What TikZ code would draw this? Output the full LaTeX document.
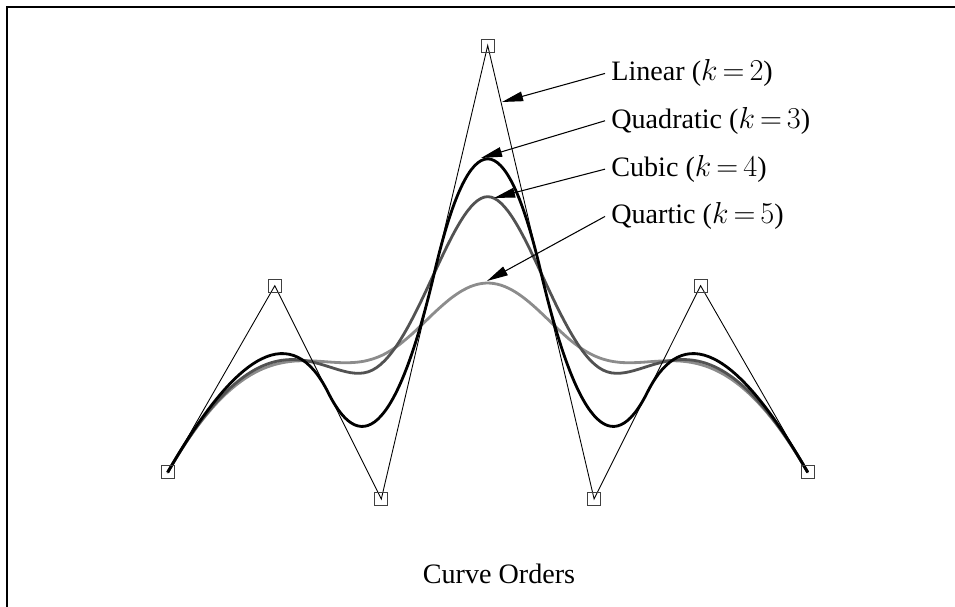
\documentclass[tikz,border=0pt]{standalone}
\usepackage{fontspec}
\setmainfont{Liberation Serif}
\usetikzlibrary{arrows.meta,calc}
\newcommand\lblfont{\fontsize{16}{19}\selectfont\thickmuskip=3mu\relax}
\tikzset{
  frame/.style={line width=0.9pt},
  ctrl/.style={draw=black!75, line width=0.45pt, rectangle, minimum size=0.26cm, inner sep=0pt},
  hull/.style={line width=0.5pt},
  quad/.style={line width=1.6pt, black},
  cub/.style={line width=1.6pt, black!68},
  quart/.style={line width=1.6pt, black!45, line cap=round},
  pointer/.style={-{Triangle[length=12pt,width=5.5pt]}, line width=0.6pt},
  lbl/.style={anchor=base west, inner xsep=0.12cm, font=\lblfont},
  capn/.style={anchor=base, font=\fontsize{16}{19}\selectfont},
}
% quartic Bezier piece through five points
\newcommand\quartseg[5]{%
  let \p1=(#1), \p2=(#2), \p3=(#3), \p4=(#4), \p5=(#5) in
  plot[variable=\t, domain=0:1, samples=40, smooth]
  ({(1-\t)^4*\x1 + 4*(1-\t)^3*\t*\x2 + 6*(1-\t)^2*\t^2*\x3 + 4*(1-\t)*\t^3*\x4 + \t^4*\x5},
   {(1-\t)^4*\y1 + 4*(1-\t)^3*\t*\y2 + 6*(1-\t)^2*\t^2*\y3 + 4*(1-\t)*\t^3*\y4 + \t^4*\y5})}

\begin{document}
\begin{tikzpicture}[x=0.02cm, y=-0.02cm]
\useasboundingbox (0,0) rectangle (955,607);
\draw[frame] (7,7) rectangle (1000,700);

% control polygon
\coordinate (P0) at (167.7,472.3);
\coordinate (P1) at (274.8,285.7);
\coordinate (P2) at (381.3,499);
\coordinate (P3) at (487.7,45.5);
\coordinate (P4) at (594.1,499);
\coordinate (P5) at (700.6,285.7);
\coordinate (P6) at (807.7,472.3);

% Bezier points of the splines
\coordinate (m12) at ($(P1)!0.5!(P2)$);
\coordinate (m23) at ($(P2)!0.5!(P3)$);
\coordinate (m34) at ($(P3)!0.5!(P4)$);
\coordinate (m45) at ($(P4)!0.5!(P5)$);
\coordinate (c1) at ($0.25*(P1)+0.58333*(P2)+0.16667*(P3)$);
\coordinate (c2) at ($0.16667*(P2)+0.66667*(P3)+0.16667*(P4)$);
\coordinate (c3) at ($0.16667*(P3)+0.58333*(P4)+0.25*(P5)$);
\coordinate (q4) at ($0.125*(P1)+0.51389*(P2)+0.30556*(P3)+0.05556*(P4)$);
\coordinate (q5) at ($0.44444*(P2)+0.44444*(P3)+0.11111*(P4)$);
\coordinate (q6) at ($0.22222*(P2)+0.55556*(P3)+0.22222*(P4)$);
\coordinate (q7) at ($0.11111*(P2)+0.44444*(P3)+0.44444*(P4)$);
\coordinate (q8) at ($0.05556*(P2)+0.30556*(P3)+0.51389*(P4)+0.125*(P5)$);

% k=5
\draw[quart] \quartseg{P0}{P1}{m12}{c1}{q4};
\draw[quart] \quartseg{q4}{q5}{q6}{q7}{q8};
\draw[quart] \quartseg{q8}{c3}{m45}{P5}{P6};
% k=4
\draw[cub] (P0) .. controls (P1) and (m12) .. (c1)
  .. controls ($(P2)!1/3!(P3)$) and ($(P2)!2/3!(P3)$) .. (c2)
  .. controls ($(P3)!1/3!(P4)$) and ($(P3)!2/3!(P4)$) .. (c3)
  .. controls (m45) and (P5) .. (P6);
% k=3
\draw[quad] (P0) .. controls ($(P0)!2/3!(P1)$) and ($(m12)!2/3!(P1)$) .. (m12)
  .. controls ($(m12)!2/3!(P2)$) and ($(m23)!2/3!(P2)$) .. (m23)
  .. controls ($(m23)!2/3!(P3)$) and ($(m34)!2/3!(P3)$) .. (m34)
  .. controls ($(m34)!2/3!(P4)$) and ($(m45)!2/3!(P4)$) .. (m45)
  .. controls ($(m45)!2/3!(P5)$) and ($(P6)!2/3!(P5)$) .. (P6);
% k=2
\draw[hull] (P0) -- (P1) -- (P2) -- (P3) -- (P4) -- (P5) -- (P6);
\foreach \i in {0,...,6}
  \node[ctrl] (s\i) at (P\i) {};

% labels
\node[lbl] (lin) at (605,81) {Linear ($k=2$)};
\node[lbl] (qua) at (605,128.3) {Quadratic ($k=3$)};
\node[lbl] (cubl) at (605,176.7) {Cubic ($k=4$)};
\node[lbl] (qrt) at (605,224) {Quartic ($k=5$)};
\coordinate (tlin) at (502,102);
\coordinate (tqua) at (481,158);
\coordinate (tcub) at (494,198);
\coordinate (tqrt) at (487,281);
\draw[pointer] (lin.west) -- (tlin);
\draw[pointer] (qua.west) -- (tqua);
\draw[pointer] (cubl.west) -- (tcub);
\draw[pointer] (qrt.west) -- (tqrt);

\node[capn] (cap) at (499,583) {Curve Orders};
\end{tikzpicture}
\end{document}
